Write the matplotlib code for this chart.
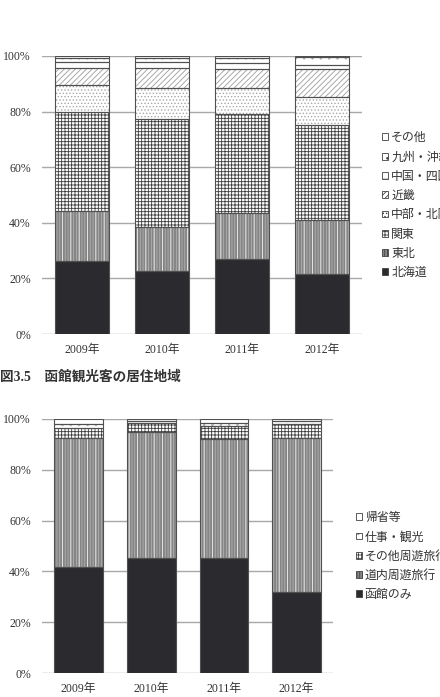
import matplotlib
matplotlib.use("Agg")
import matplotlib.pyplot as plt
from matplotlib.patches import Patch

plt.rcParams['font.family'] = ['Liberation Serif', 'Noto Sans CJK JP']
plt.rcParams['hatch.linewidth'] = 0.6

# data (percent, bottom to top)
years = ['2009年', '2010年', '2011年', '2012年']

# top chart: residence area
area_names = ['北海道', '東北', '関東', '中部・北陸', '近畿', '中国・四国', '九州・沖縄', 'その他']
hokkaido = [26.3, 22.8, 26.8, 21.6]
tohoku = [17.9, 15.8, 16.7, 19.4]
kanto = [35.7, 38.8, 35.7, 34.1]
chubu = [9.6, 11.2, 9.4, 10.3]
kinki = [6.0, 7.1, 6.8, 10.0]
chugoku = [2.2, 2.2, 2.2, 1.2]
kyushu = [1.7, 1.5, 1.7, 3.0]
other_area = [0.6, 0.6, 0.7, 0.4]

# bottom chart: trip type
trip_names = ['函館のみ', '道内周遊旅行', 'その他周遊旅行', '仕事・観光', '帰省等']
hakodate_only = [41.6, 45.3, 45.3, 31.9]
dounai = [51.0, 49.7, 46.7, 60.6]
other_trip = [3.9, 3.3, 5.2, 5.4]
work = [1.5, 1.0, 1.4, 1.3]
kisei = [2.0, 0.7, 1.4, 0.8]

# styles: (face, hatch, hatch colour, extra overlay hatch)
area_styles = [
    ('#2b2b2f', None, '#2b2b2f', None),
    ('#858585', '||||||', '#b0b0b0', '||'),
    ('#ffffff', '+++++', '#3c3c3c', None),
    ('#ffffff', '.....', '#a8a8a8', None),
    ('#ffffff', '//////', '#9c9c9c', None),
    ('#ffffff', '--', '#555555', None),
    ('#ffffff', '..', '#b0b0b0', None),
    ('#ffffff', None, '#ffffff', None),
]
trip_styles = [
    ('#2b2b2f', None, '#2b2b2f', None),
    ('#858585', '||||||', '#b0b0b0', '||'),
    ('#ffffff', '+++++', '#3c3c3c', None),
    ('#ffffff', '..', '#b0b0b0', None),
    ('#ffffff', None, '#ffffff', None),
]

fig = plt.figure(figsize=(4.4, 6.97), dpi=100)


def stacked(ax, series, styles, width):
    x = list(range(len(years)))
    base = [0.0] * len(years)
    for vals, (fc, hatch, hc, extra) in zip(series, styles):
        ax.bar(x, vals, width, bottom=base, color=fc, hatch=hatch,
               edgecolor=hc, linewidth=0, zorder=3)
        if extra:
            # wider white stripes on top of the fine lines
            ax.bar(x, vals, width, bottom=base, fill=False, hatch=extra,
                   edgecolor='#ececec', linewidth=0, zorder=3.5)
        ax.bar(x, vals, width, bottom=base, fill=False,
               edgecolor='#505050', linewidth=0.8, zorder=4)
        base = [b + v for b, v in zip(base, vals)]
    ax.set_xlim(-0.5, len(years) - 0.5)
    ax.set_ylim(0, 100)
    ax.set_yticks(range(0, 101, 20))
    ax.set_yticklabels(['%d%%' % v for v in range(0, 101, 20)])
    ax.set_xticks(x)
    ax.set_xticklabels(years)
    ax.grid(axis='y', color='#a8a8a8', linewidth=1.0, zorder=0)
    for s in ax.spines.values():
        s.set_visible(False)
    ax.tick_params(length=0, labelsize=8.5, colors='#333333')
    ax.tick_params(axis='y', pad=8)
    ax.tick_params(axis='x', pad=7)


def legend_handles(names, styles):
    hs = []
    for n, (fc, hatch, hc, extra) in zip(names, styles):
        hs.append(Patch(facecolor=fc, hatch=hatch, edgecolor='#404040',
                        linewidth=0.6, label=n))
    return hs[::-1]


ax1 = fig.add_axes([0.0955, 0.5208, 0.7272, 0.3989])
stacked(ax1, [hokkaido, tohoku, kanto, chubu, kinki, chugoku, kyushu, other_area],
        area_styles, 0.675)
fig.legend(handles=legend_handles(area_names, area_styles),
           loc='upper left', bbox_to_anchor=(0.855, 0.819), frameon=False,
           fontsize=8.6, handlelength=0.5, handleheight=0.5, handletextpad=0.25,
           labelspacing=0.61, borderpad=0, labelcolor='#333333')

fig.text(0.0, 1 - 377 / 697, '図3.5　函館観光客の居住地域', fontsize=9.8,
         fontweight='bold', color='#333333', va='center', ha='left')

ax2 = fig.add_axes([0.0955, 0.0344, 0.6613, 0.3645])
stacked(ax2, [hakodate_only, dounai, other_trip, work, kisei], trip_styles, 0.67)
fig.legend(handles=legend_handles(trip_names, trip_styles),
           loc='upper left', bbox_to_anchor=(0.795, 0.274), frameon=False,
           fontsize=8.6, handlelength=0.5, handleheight=0.5, handletextpad=0.25,
           labelspacing=0.61, borderpad=0, labelcolor='#333333')

fig.savefig('out.png', dpi=100)
